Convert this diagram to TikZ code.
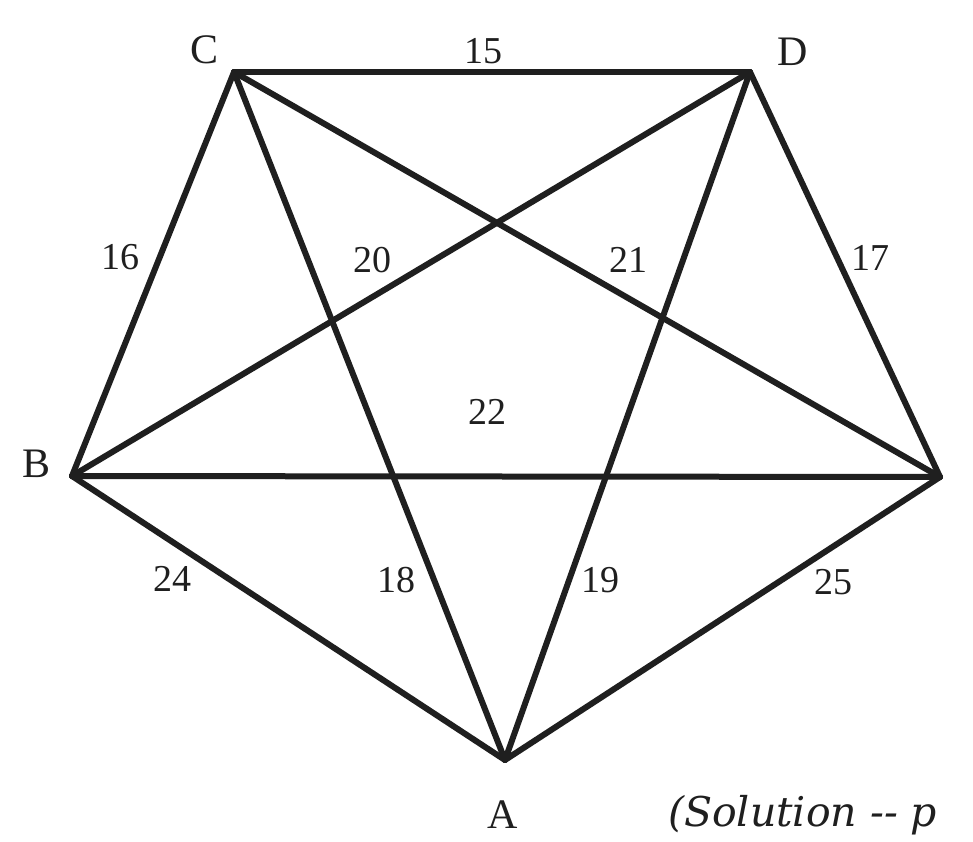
\documentclass[tikz,border=0pt]{standalone}
\usepackage{fontspec}
\setmainfont{Liberation Serif}
\newfontfamily\solfont{DejaVu Serif}
\begin{document}
\begin{tikzpicture}[x=1pt,y=-1pt,
  edge/.style={line width=6pt,color=black!88,line cap=round,line join=round},
  wt/.style={font=\fontsize{38}{40}\selectfont,text=black!88,inner sep=0pt},
  vlab/.style={font=\fontsize{42}{46}\selectfont,text=black!88,inner sep=0pt}]
\useasboundingbox[fill=white] (0,0) rectangle (973,842);
\coordinate (C) at (234,72);
\coordinate (D) at (750,72);
\coordinate (B) at (72,476);
\coordinate (E) at (940,477);
\coordinate (A) at (505,760);
\draw[edge] (C) -- (D);
\draw[edge] (C) -- (B);
\draw[edge] (C) -- (A);
\draw[edge] (C) -- (E);
\draw[edge] (D) -- (B);
\draw[edge] (D) -- (A);
\draw[edge] (D) -- (E);
\draw[edge] (B) -- (E);
\draw[edge] (B) -- (A);
\draw[edge] (E) -- (A);
\node[vlab] (lC) at (205,50) {C};
\node[vlab] (lD) at (793,52) {D};
\node[vlab] (lB) at (37,464) {B};
\node[vlab] (lA) at (503,815) {A};
\node[wt] (w15) at (483,51) {15};
\node[wt] (w16) at (120,257) {16};
\node[wt] (w20) at (372,260) {20};
\node[wt] (w21) at (628,260) {21};
\node[wt] (w17) at (870,258) {17};
\node[wt] (w22) at (487,412) {22};
\node[wt] (w24) at (172,579) {24};
\node[wt] (w18) at (396,580) {18};
\node[wt] (w19) at (600,580) {19};
\node[wt] (w25) at (833,582) {25};
\node[font=\solfont\fontsize{41}{46}\selectfont\itshape,text=black!88,inner sep=0pt,anchor=base west] (sol) at (668,826) {(Solution -{}- p};
\end{tikzpicture}
\end{document}
